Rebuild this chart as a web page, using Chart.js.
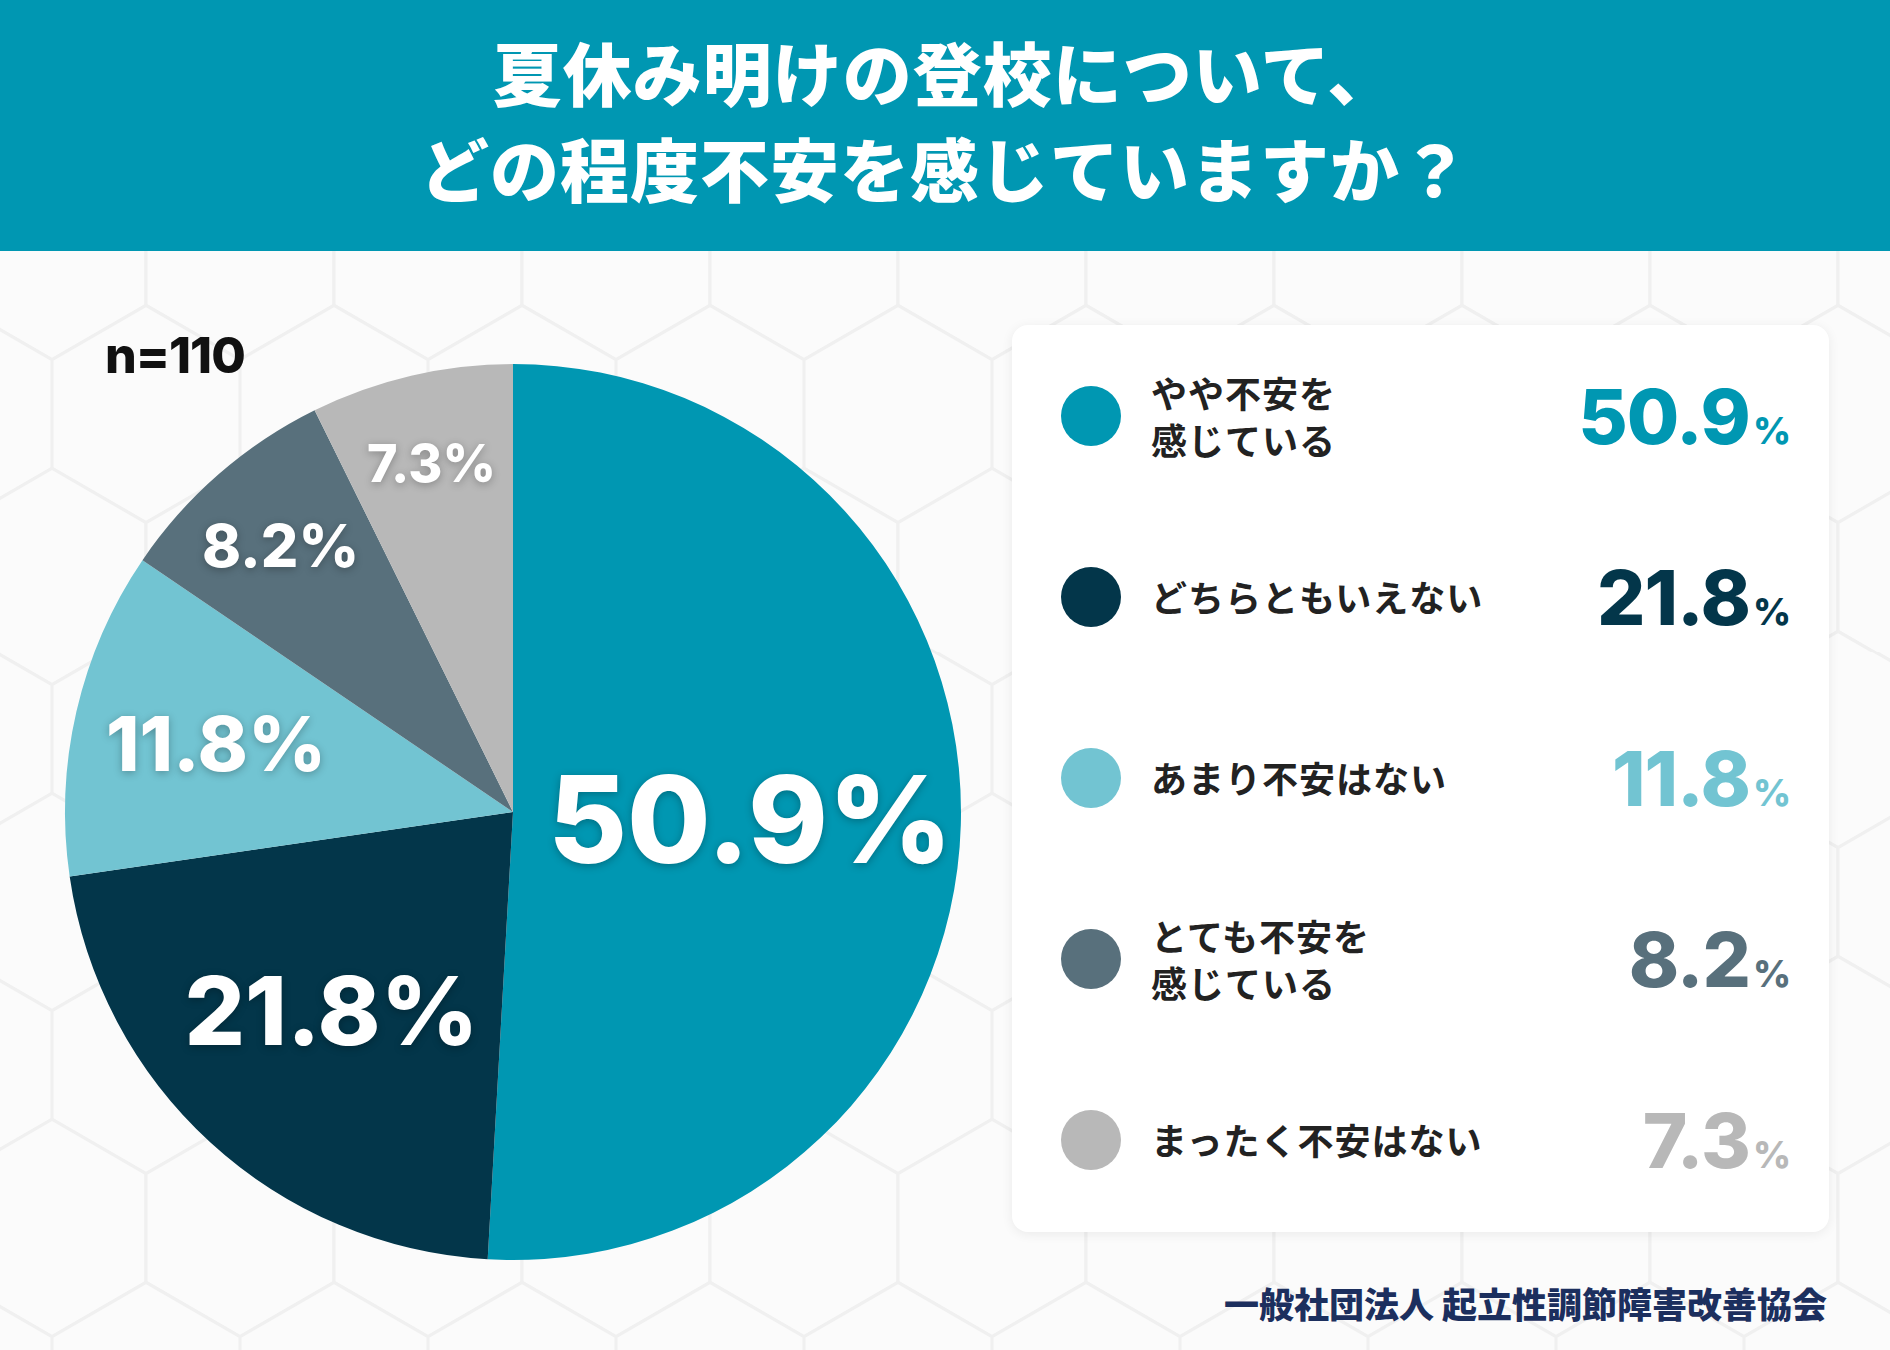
<!DOCTYPE html>
<html lang="ja">
<head>
<meta charset="utf-8">
<title>夏休み明けの登校について</title>
<script src="https://cdn.jsdelivr.net/npm/chart.js@4.4.1/dist/chart.umd.min.js"></script>
<style>
  html, body {
    margin: 0;
    padding: 0;
  }
  body {
    width: 1890px;
    height: 1350px;
    overflow: hidden;
    position: relative;
    background-color: #f8f8f8;
    font-family: "Noto Sans CJK JP", "Noto Sans", sans-serif;
  }
  #header {
    position: absolute;
    left: 0;
    top: 0;
    width: 1890px;
    height: 251px;
    background: #0097b2;
    color: #fff;
    text-align: center;
    font-weight: 900;
    font-size: 69px;
    line-height: 96px;
    padding-top: 23px;
    box-sizing: border-box;
    letter-spacing: 1px;
  }
  #sample {
    position: absolute;
    left: 105px;
    top: 326px;
    font-family: Inter, sans-serif;
    font-weight: 800;
    font-size: 50px;
    line-height: 58px;
    color: #111;
    letter-spacing: -1px;
  }
  #pieBox {
    position: absolute;
    left: 33px;
    top: 332px;
    width: 960px;
    height: 960px;
  }
  #card {
    position: absolute;
    left: 1012px;
    top: 325px;
    width: 817px;
    height: 907px;
    background: #fff;
    border-radius: 16px;
    box-shadow: 0 2px 12px rgba(0, 0, 0, 0.07);
  }
  .row {
    position: absolute;
    left: 0;
    width: 817px;
    height: 181px;
    display: flex;
    align-items: center;
  }
  .dot {
    position: absolute;
    left: 49px;
    width: 60px;
    height: 60px;
    border-radius: 50%;
  }
  .name {
    position: absolute;
    left: 139px;
    font-size: 36px;
    font-weight: 700;
    line-height: 47px;
    color: #222;
    letter-spacing: 1px;
  }
  .val {
    position: absolute;
    right: 39px;
    font-family: Inter, sans-serif;
    font-weight: 800;
    line-height: 1;
    letter-spacing: -1px;
  }
  .val .num { font-size: 76px; }
  .val .pct { font-size: 37px; margin-left: 3px; }
  #footer {
    position: absolute;
    right: 63px;
    top: 1280px;
    font-size: 35px;
    font-weight: 900;
    line-height: 46px;
    color: #1c2f5e;
  }
</style>
</head>
<body>
<div id="header">夏休み明けの登校について、<br>どの程度不安を感じていますか？</div>
<div id="sample">n=110</div>
<div id="pieBox"><canvas id="pieChart"></canvas></div>
<div id="card"></div>
<div id="footer">一般社団法人 起立性調節障害改善協会</div>

<script>
// ---- data ----
var labels = [
  "やや不安を\n感じている",
  "どちらともいえない",
  "あまり不安はない",
  "とても不安を\n感じている",
  "まったく不安はない"
];
var values = [50.9, 21.8, 11.8, 8.2, 7.3];
var colors = ["#0097b2", "#03364a", "#72c4d2", "#58707c", "#b8b8b8"];

// label placement on the pie (fraction of radius, font px)
var labelRadius = [0.53, 0.6, 0.68, 0.79, 0.8];
var labelSize = [121, 95, 76, 59, 52];

// ---- hexagon background ----
(function () {
  var w = 188, s = w / Math.sqrt(3), h = 3 * s;
  var centers = [[0, 0], [w, 0], [w / 2, h / 2], [0, h], [w, h]];
  var paths = centers.map(function (c) {
    var pts = [];
    for (var k = 0; k < 6; k++) {
      var a = (Math.PI / 180) * (60 * k - 90);
      pts.push((c[0] + s * Math.cos(a)).toFixed(1) + "," + (c[1] + s * Math.sin(a)).toFixed(1));
    }
    return '<polygon points="' + pts.join(" ") + '" fill="#fbfbfb" stroke="#f0f0f0" stroke-width="3"/>';
  });
  var svg = '<svg xmlns="http://www.w3.org/2000/svg" width="' + w + '" height="' + h.toFixed(1) + '">' +
    '<rect width="100%" height="100%" fill="#f4f4f4"/>' + paths.join("") + "</svg>";
  document.body.style.backgroundImage = 'url("data:image/svg+xml,' + encodeURIComponent(svg) + '")';
  document.body.style.backgroundPosition = "52px 251px";
})();

// ---- legend card ----
var card = document.getElementById("card");
labels.forEach(function (lab, i) {
  var row = document.createElement("div");
  row.className = "row";
  row.style.top = (i * 181) + "px";
  row.innerHTML =
    '<div class="dot" style="background:' + colors[i] + '"></div>' +
    '<div class="name">' + lab.split("\n").join("<br>") + "</div>" +
    '<div class="val" style="color:' + colors[i] + '"><span class="num">' + values[i].toFixed(1) +
    '</span><span class="pct">%</span></div>';
  card.appendChild(row);
});

// ---- pie labels plugin ----
var sliceLabels = {
  id: "sliceLabels",
  afterDatasetsDraw: function (chart) {
    var ctx = chart.ctx;
    var meta = chart.getDatasetMeta(0);
    meta.data.forEach(function (arc, i) {
      var p = arc.getProps(["x", "y", "startAngle", "endAngle", "outerRadius"], true);
      var mid = (p.startAngle + p.endAngle) / 2;
      var r = p.outerRadius * labelRadius[i];
      var x = p.x + Math.cos(mid) * r;
      var y = p.y + Math.sin(mid) * r;
      var size = labelSize[i];
      ctx.save();
      ctx.font = "800 " + size + "px Inter, sans-serif";
      ctx.textAlign = "center";
      ctx.textBaseline = "alphabetic";
      ctx.fillStyle = "#ffffff";
      ctx.shadowColor = "rgba(0,0,0,0.28)";
      ctx.shadowBlur = 8;
      ctx.shadowOffsetY = 2;
      ctx.fillText(values[i].toFixed(1) + "%", x, y + size * 0.364);
      ctx.restore();
    });
  }
};

var ctx = document.getElementById("pieChart").getContext("2d");
var pieChart = new Chart(ctx, {
  type: "pie",
  plugins: [sliceLabels],
  data: {
    labels: labels,
    datasets: [
      {
        data: values,
        backgroundColor: colors,
        borderWidth: 0
      }
    ]
  },
  options: {
    responsive: true,
    maintainAspectRatio: false,
    animation: false,
    layout: { padding: 32 },
    plugins: {
      legend: { display: false },
      tooltip: { enabled: false }
    }
  }
});
</script>
</body>
</html>
